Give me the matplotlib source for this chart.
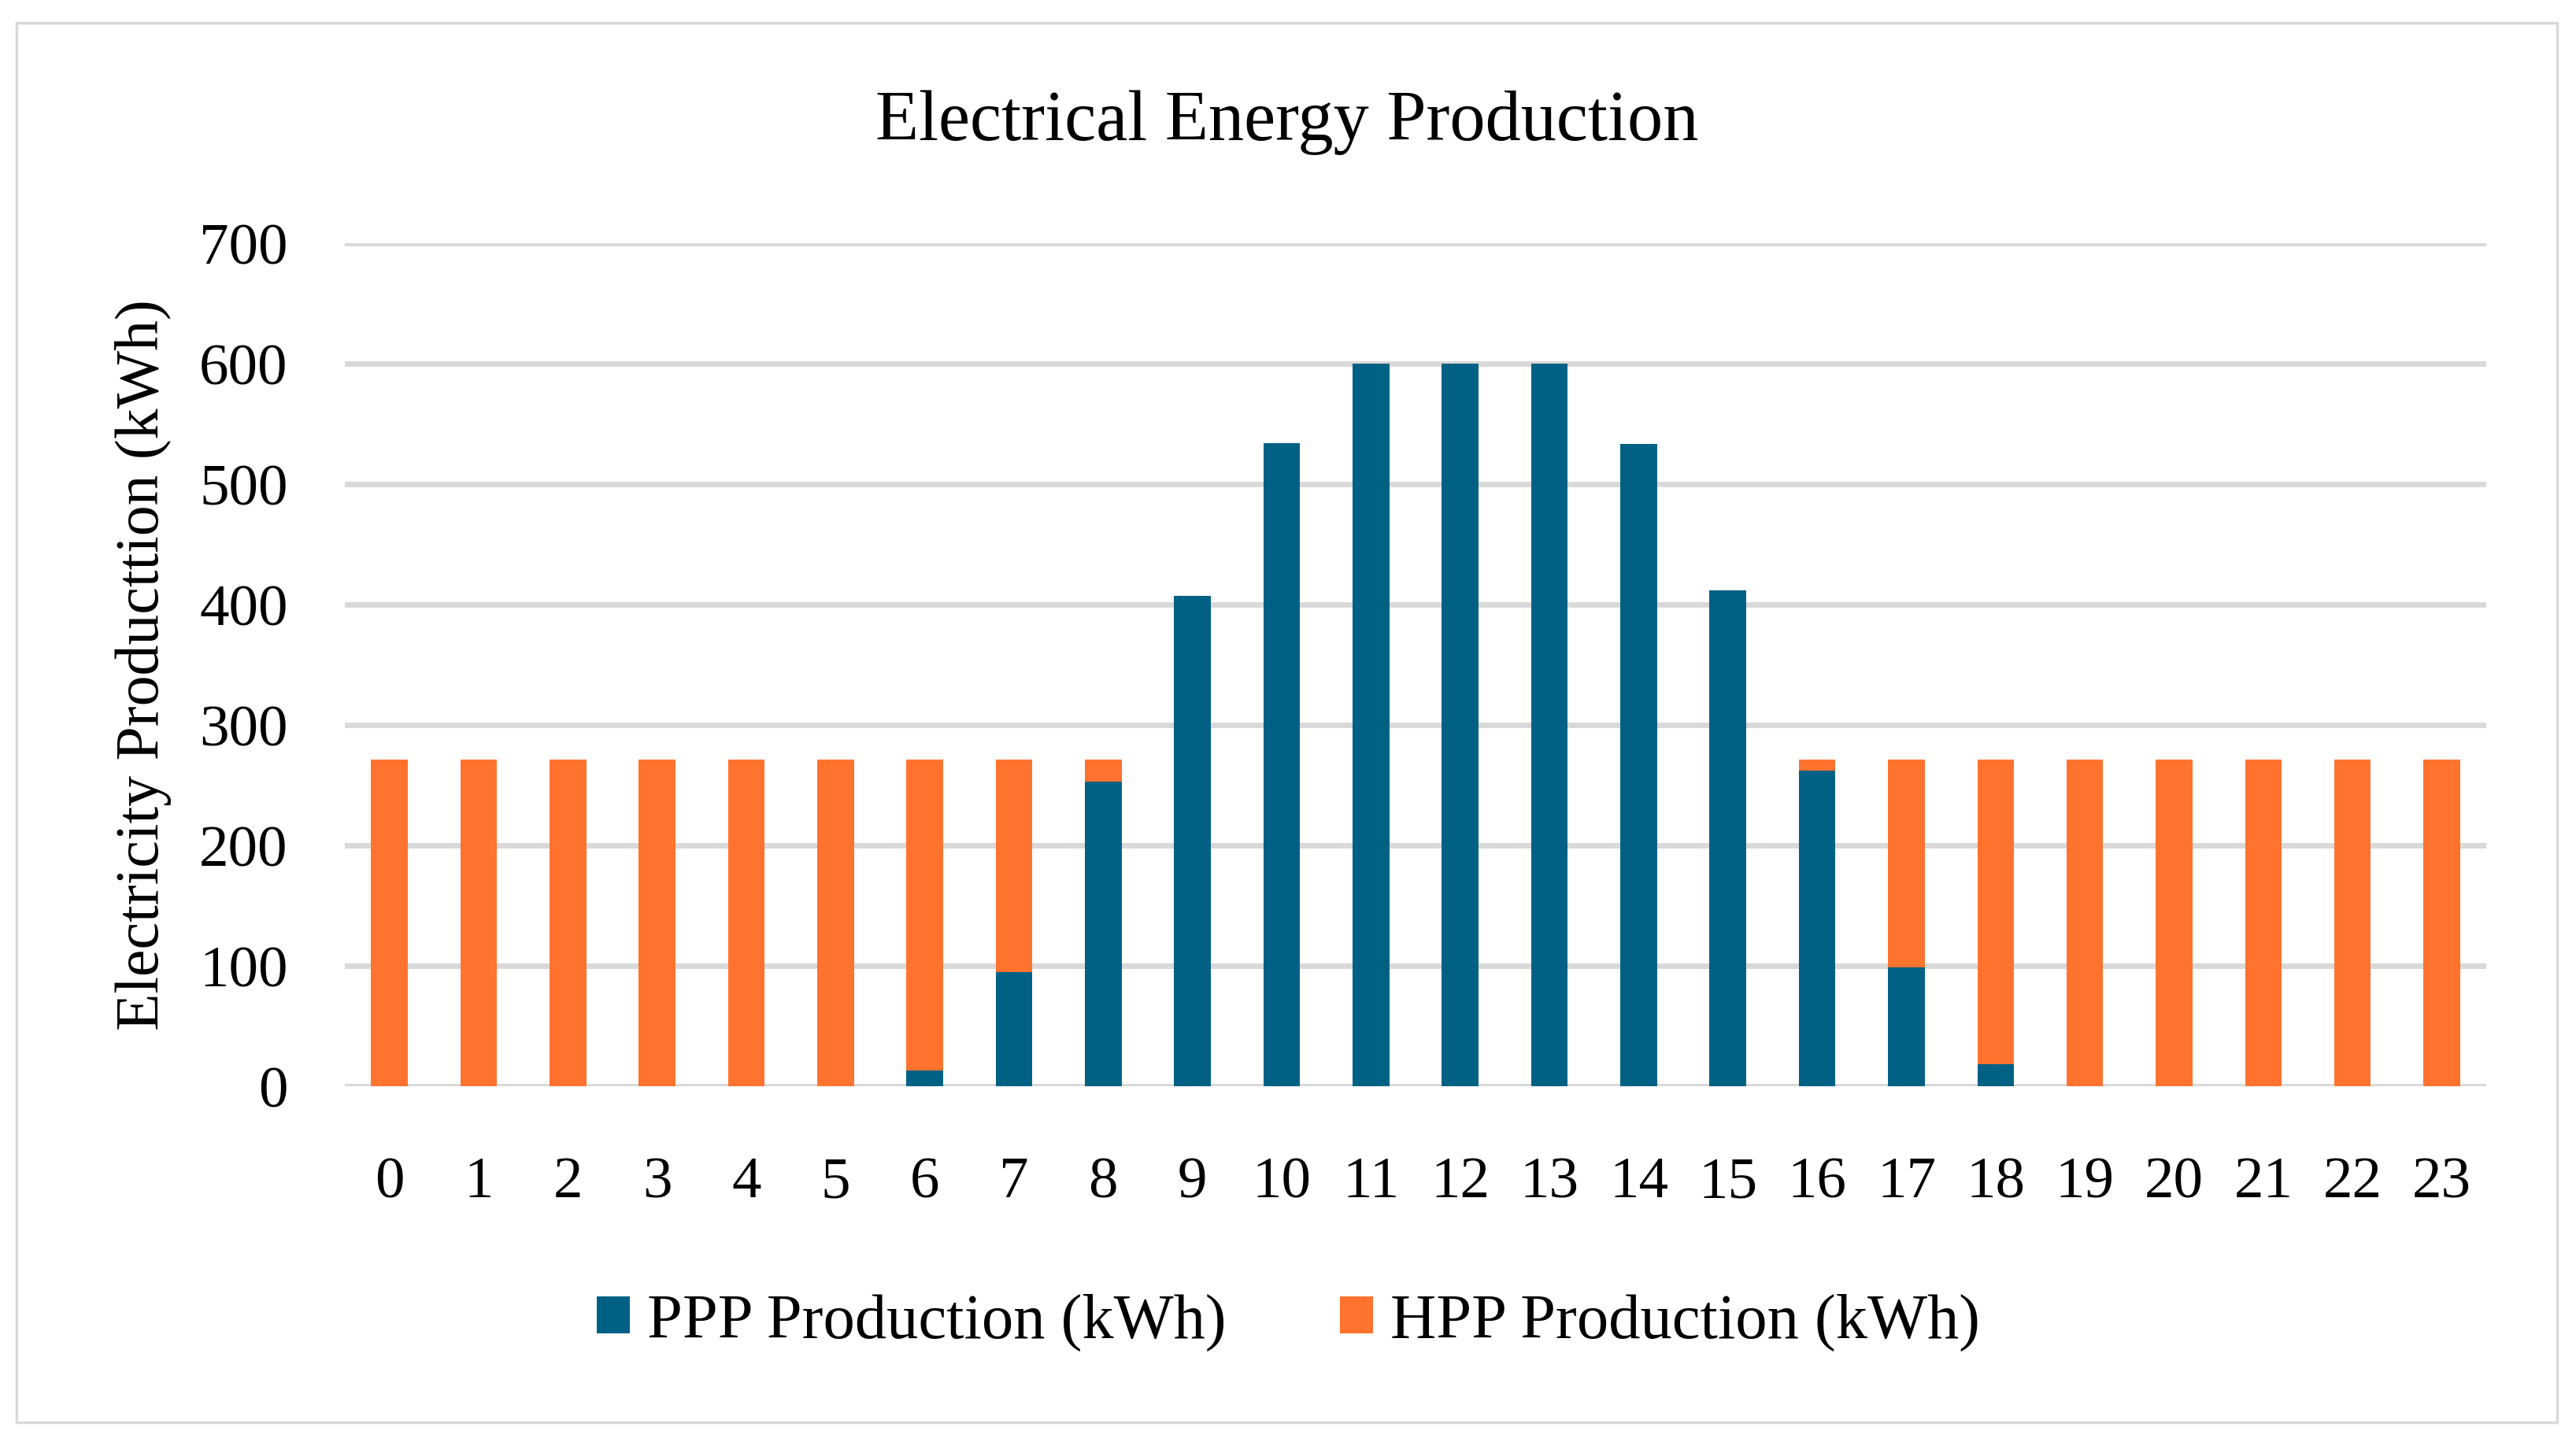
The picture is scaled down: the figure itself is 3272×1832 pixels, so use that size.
import matplotlib.pyplot as plt
from matplotlib.patches import Rectangle

# Hourly production values (kWh)
hours = list(range(24))
ppp_production = [0, 0, 0, 0, 0, 0, 13, 95, 253, 407, 534, 600,
                  600, 600, 533, 412, 262, 99, 18, 0, 0, 0, 0, 0]
hpp_production = [271, 271, 271, 271, 271, 271, 258, 176, 18, 0, 0, 0,
                  0, 0, 0, 0, 9, 172, 253, 271, 271, 271, 271, 271]

ppp_color = '#006185'
hpp_color = '#FF732E'
grid_color = '#D9D9D9'

plt.rcParams['font.family'] = ['Liberation Serif', 'DejaVu Serif']

fig = plt.figure(figsize=(32.73, 18.33), dpi=100)
ax = fig.add_axes([0.1338, 0.2466, 0.8311, 0.5843])

ax.bar(hours, ppp_production, width=0.41, color=ppp_color,
       label='PPP Production (kWh)', zorder=3)
ax.bar(hours, hpp_production, width=0.41, bottom=ppp_production,
       color=hpp_color, label='HPP Production (kWh)', zorder=3)

ax.set_xlim(-0.5, 23.5)
ax.set_ylim(0, 700)
ax.set_yticks(range(0, 701, 100))
ax.set_xticks(hours)
ax.set_xticklabels([str(h) for h in hours])
ax.yaxis.grid(True, color=grid_color, linewidth=5, zorder=0)
ax.set_axisbelow(True)
for s in ax.spines.values():
    s.set_visible(False)
ax.tick_params(axis='both', length=0, labelsize=54, colors='black')
ax.tick_params(axis='y', pad=52)
ax.tick_params(axis='x', pad=64)

fig.text(0.0555, 0.539, 'Electricity Producttion (kWh)', rotation=90,
         ha='center', va='center', fontsize=56)
fig.text(0.4995, 0.915, 'Electrical Energy Production',
         ha='center', va='center', fontsize=65)

fig.legend(loc='center', bbox_to_anchor=(0.5, 0.083), ncol=2, frameon=False,
           fontsize=58, handlelength=0.52, handleheight=0.52,
           handletextpad=0.27, columnspacing=1.8)

# light grey frame round the whole chart
fig.patches.append(Rectangle((0.0064, 0.0136), 0.986, 0.970,
                             transform=fig.transFigure, fill=False,
                             edgecolor=grid_color, linewidth=2.5))

fig.savefig('out.png', dpi=100)
